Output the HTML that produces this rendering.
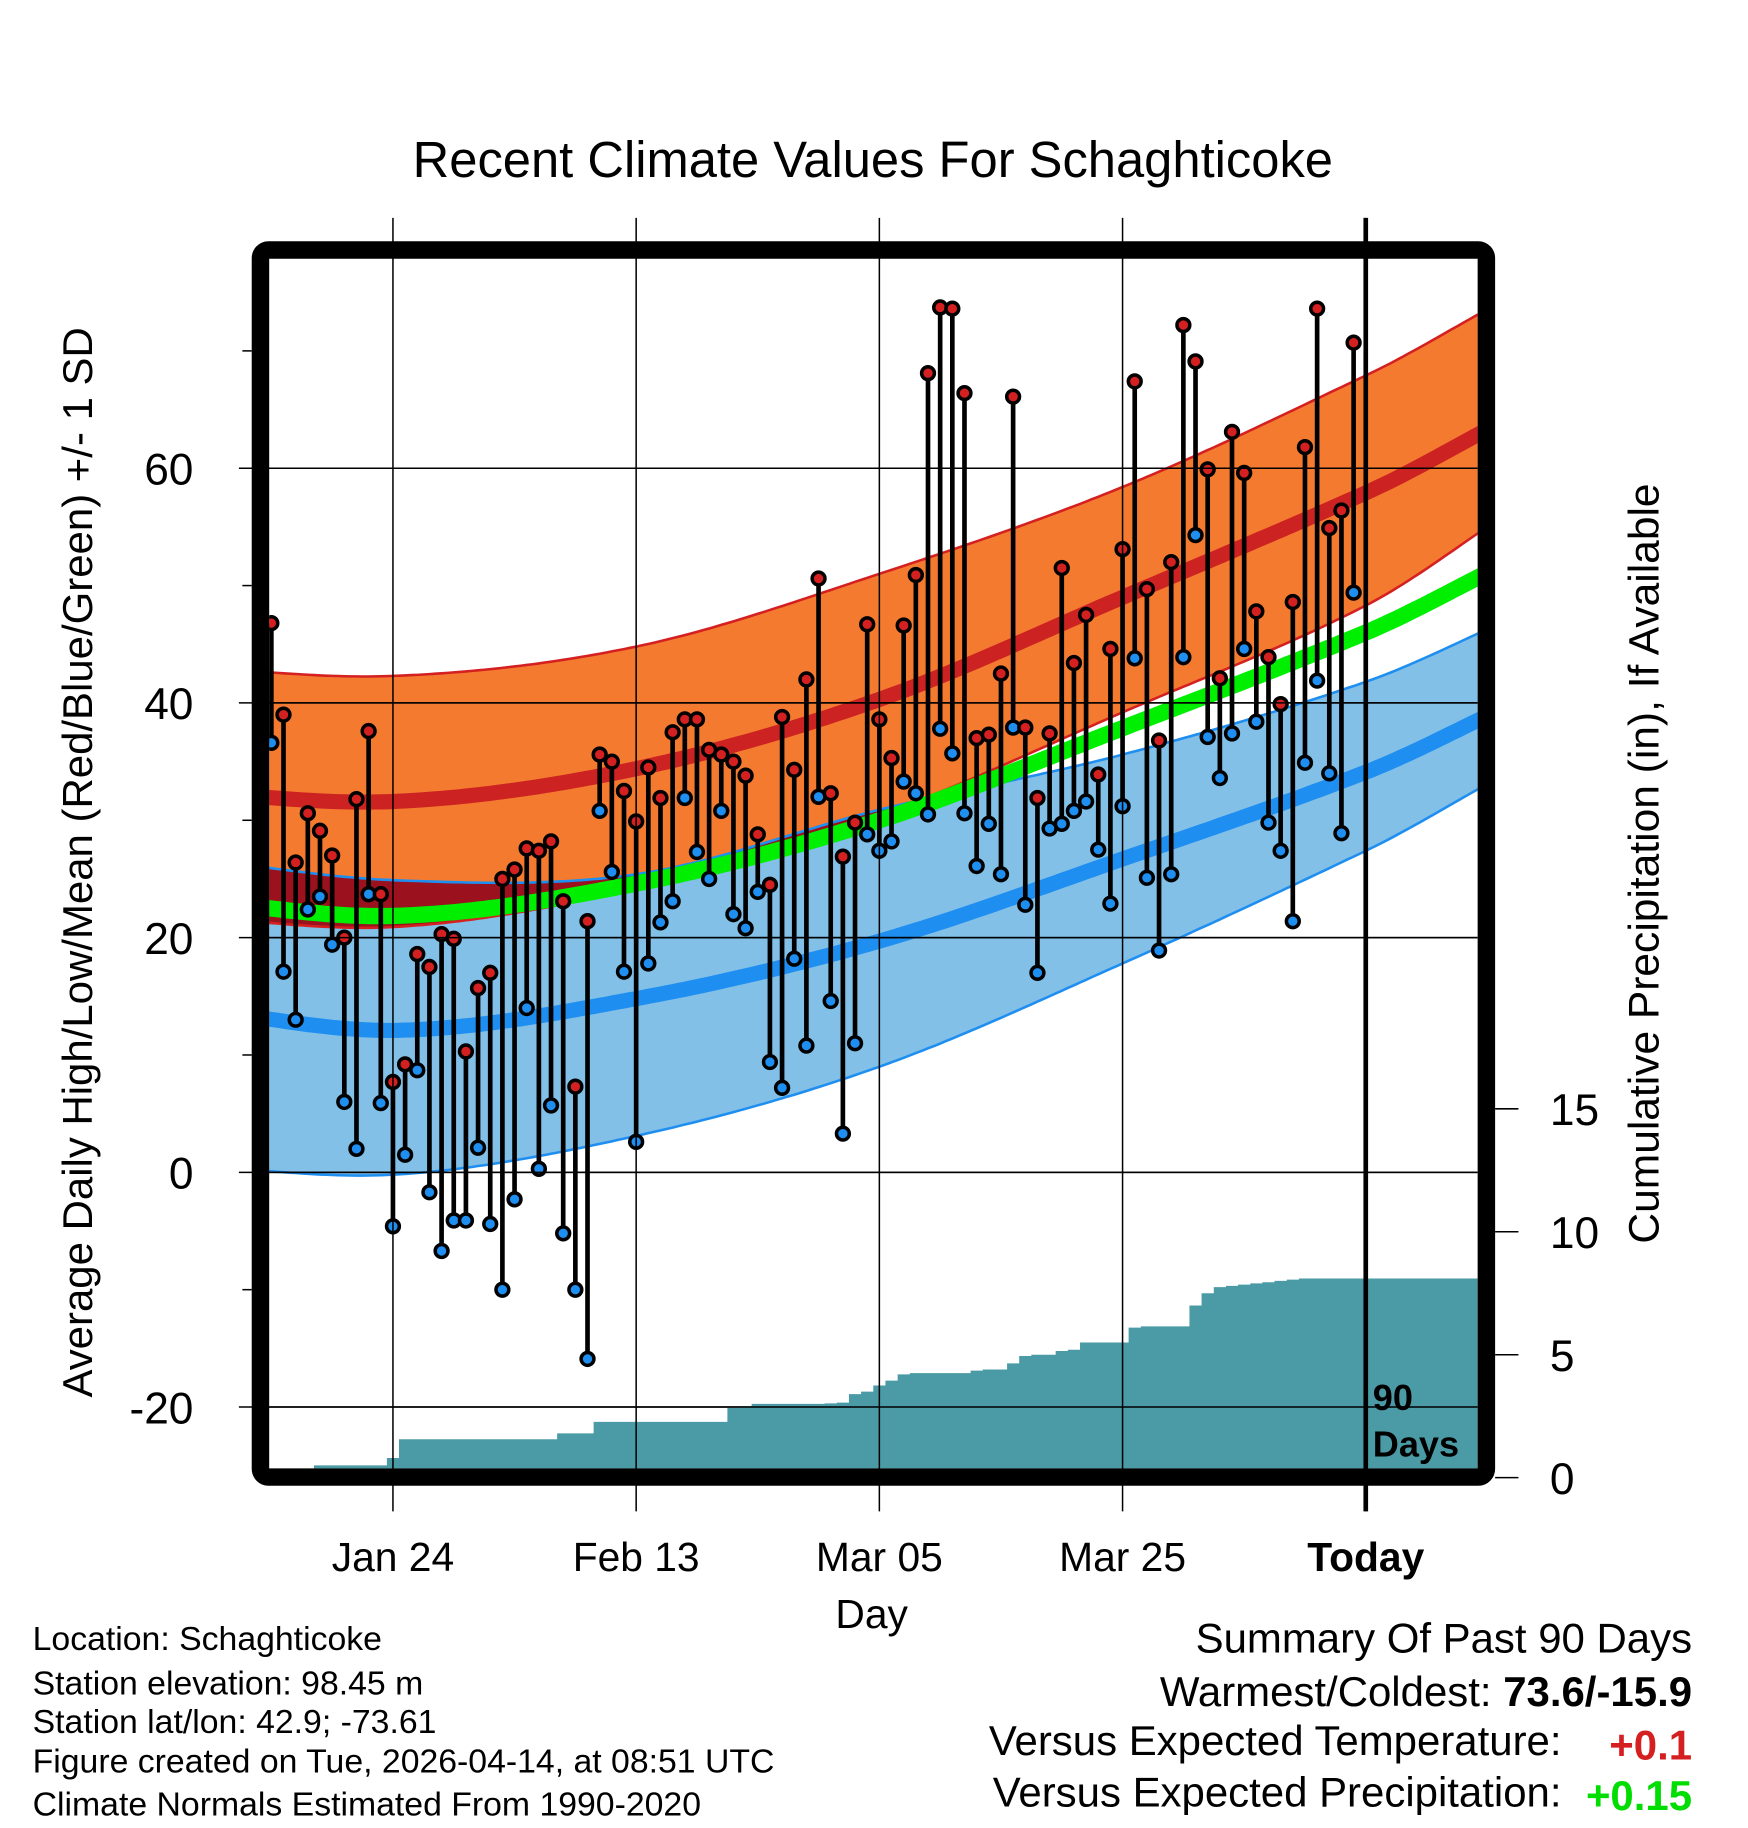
<!DOCTYPE html>
<html><head><meta charset="utf-8"><style>
html,body{margin:0;padding:0;background:#fff;}
svg{display:block;font-family:"Liberation Sans",Arial,sans-serif;}
</style></head><body>
<svg id="chart" width="1748" height="1828" viewBox="0 0 1500 1568.65" preserveAspectRatio="none" xmlns="http://www.w3.org/2000/svg">
<defs><clipPath id="plotclip"><rect x="231" y="222" width="1037" height="1038"/></clipPath></defs>
<text x="749" y="152" font-size="43.5" text-anchor="middle">Recent Climate Values For Schaghticoke</text>
<g id="plot" clip-path="url(#plotclip)"></g>
<g id="over"></g>
<rect x="223.5" y="214.5" width="1052" height="1053" rx="7" fill="none" stroke="#000" stroke-width="15"/>
<text transform="translate(79,740) rotate(-90)" font-size="36" text-anchor="middle">Average Daily High/Low/Mean (Red/Blue/Green) +/- 1 SD</text>
<text transform="translate(1423,741) rotate(-90)" font-size="36.5" text-anchor="middle">Cumulative Precipitation (in), If Available</text>
<text x="748" y="1397" font-size="35" text-anchor="middle">Day</text>
<text x="1178" y="1210" font-size="31" font-weight="bold">90</text>
<text x="1178" y="1250" font-size="31" font-weight="bold">Days</text>
<g font-size="29">
<text x="28" y="1416">Location: Schaghticoke</text>
<text x="28" y="1454">Station elevation: 98.45 m</text>
<text x="28" y="1487">Station lat/lon: 42.9; -73.61</text>
<text x="28" y="1521">Figure created on Tue, 2026-04-14, at 08:51 UTC</text>
<text x="28" y="1558">Climate Normals Estimated From 1990-2020</text>
</g>
<g font-size="36">
<text x="1452" y="1418" text-anchor="end">Summary Of Past 90 Days</text>
<text x="1452" y="1464" text-anchor="end">Warmest/Coldest: <tspan font-weight="bold">73.6/-15.9</tspan></text>
<text x="1340" y="1506" text-anchor="end">Versus Expected Temperature:</text>
<text x="1452" y="1510" text-anchor="end" font-weight="bold" fill="#d42020">+0.1</text>
<text x="1340" y="1550" text-anchor="end">Versus Expected Precipitation:</text>
<text x="1452" y="1553" text-anchor="end" font-weight="bold" fill="#00dd00">+0.15</text>
</g>
</svg>
<script>
const highs=[46.8,39.0,26.4,30.6,29.1,27.0,20.0,31.8,37.6,23.7,7.7,9.2,18.6,17.5,20.3,19.9,10.3,15.7,17.0,25.0,25.8,27.6,27.4,28.2,23.1,7.3,21.4,35.6,35.0,32.5,29.9,34.5,31.9,37.5,38.6,38.6,36.0,35.6,35.0,33.8,28.8,24.5,38.8,34.3,42.0,50.6,32.3,26.9,29.8,46.7,38.6,35.3,46.6,50.9,68.1,73.7,73.6,66.4,37.0,37.3,42.5,66.1,37.9,31.9,37.4,51.5,43.4,47.5,33.9,44.6,53.1,67.4,49.7,36.8,52.0,72.2,69.1,59.9,42.1,63.1,59.6,47.8,43.9,39.9,48.6,61.8,73.6,54.9,56.4,70.7];
const lows=[36.6,17.1,13.0,22.4,23.5,19.4,6.0,2.0,23.7,5.9,-4.6,1.5,8.7,-1.7,-6.7,-4.1,-4.1,2.1,-4.4,-10.0,-2.3,14.0,0.3,5.7,-5.2,-10.0,-15.9,30.8,25.6,17.1,2.6,17.8,21.3,23.1,31.9,27.3,25.0,30.8,22.0,20.8,23.9,9.4,7.2,18.2,10.8,32.0,14.6,3.3,11.0,28.8,27.4,28.2,33.3,32.3,30.5,37.8,35.7,30.6,26.1,29.7,25.4,37.9,22.8,17.0,29.3,29.7,30.8,31.6,27.5,22.9,31.2,43.8,25.1,18.9,25.4,43.9,54.3,37.1,33.6,37.4,44.6,38.4,29.8,27.4,21.4,34.9,41.9,34.0,28.9,49.4];
const precipCum=[0,0,0,0,0.5,0.5,0.5,0.5,0.5,0.5,0.8,1.56,1.56,1.56,1.56,1.56,1.56,1.56,1.56,1.56,1.56,1.56,1.56,1.56,1.8,1.8,1.8,2.27,2.27,2.27,2.27,2.27,2.27,2.27,2.27,2.27,2.27,2.27,2.84,2.9,3.0,3.0,3.0,3.0,3.0,3.0,3.02,3.05,3.4,3.5,3.75,3.95,4.2,4.25,4.25,4.25,4.25,4.25,4.35,4.4,4.4,4.65,4.95,5.0,5.0,5.15,5.2,5.5,5.5,5.5,5.5,6.1,6.15,6.15,6.15,6.15,7.0,7.5,7.75,7.8,7.85,7.9,7.95,8.0,8.05,8.1,8.1,8.1,8.1,8.1];
const normDays=[-100,-80,-60,-40,-20,0,20];
const hiHi=[43.2,42.3,44.8,51.0,58.4,67.9,78.0];
const hiMean=[32.6,31.6,34.4,40.3,49.0,57.9,67.6];
const hiLo=[22.0,20.9,24.2,30.4,39.2,48.3,60.6];
const loHi=[27.0,24.9,25.4,30.9,35.6,41.8,50.0];
const loMean=[14.3,12.1,14.8,19.7,26.7,34.1,42.8];
const loLo=[0.8,-0.2,3.1,9.0,17.8,27.4,37.6];
const tempTicks=[60,40,20,0,-20];
const precipTicks=[0,5,10,15];
const dateLabels=["Jan 24","Feb 13","Mar 05","Mar 25","Today"];
const dateDays=[-80,-60,-40,-20,0];

const xDay=d=>1172+d*10.435;
const yT=v=>1006-10.07*v;
const yP=p=>1268-21.1*p;
const NS="http://www.w3.org/2000/svg";
function mk(tag,attrs,parent){const e=document.createElementNS(NS,tag);for(const k in attrs)e.setAttribute(k,attrs[k]);parent.appendChild(e);return e;}
function interp(arr,d){
  let i=0;while(i<normDays.length-2&&d>normDays[i+1])i++;
  const p0=arr[Math.max(i-1,0)],p1=arr[i],p2=arr[i+1],p3=arr[Math.min(i+2,arr.length-1)];
  const t=(d-normDays[i])/(normDays[i+1]-normDays[i]);
  const t2=t*t,t3=t2*t;
  return 0.5*((2*p1)+(-p0+p2)*t+(2*p0-5*p1+4*p2-p3)*t2+(-p0+3*p1-3*p2+p3)*t3);
}
const samp=[];for(let d=-92;d<=11;d+=0.5)samp.push(d);
const pts=arr=>samp.map(d=>[xDay(d),yT(interp(arr,d))]);
const line=p=>p.map((q,i)=>(i?"L":"M")+q[0].toFixed(1)+","+q[1].toFixed(1)).join("");
const band=(a,b)=>line(pts(a))+pts(b).reverse().map(q=>"L"+q[0].toFixed(1)+","+q[1].toFixed(1)).join("")+"Z";

const plot=document.getElementById('plot');
const over=document.getElementById('over');

tempTicks.forEach(v=>{
  const g=mk('line',{x1:205,x2:1268,y1:yT(v),y2:yT(v),stroke:'#000','stroke-width':1.3},over);
  
  
  const t=mk('text',{x:166,y:yT(v)+14,'font-size':38,'text-anchor':'end'},over);t.textContent=v;
  
  
});
for(let v=-30;v<=70;v+=10){if(tempTicks.includes(v))continue;const y=yT(v);if(y<222||y>1260)continue;
  const m=mk('line',{x1:208,x2:216,y1:y,y2:y,stroke:'#000','stroke-width':1.3},over);
  
  }
dateDays.forEach((d,i)=>{
  const x=xDay(d);
  const g=mk('line',{x1:x,x2:x,y1:187,y2:1297,stroke:'#000','stroke-width':1.3},over);
  
  
  const t=mk('text',{x:x,y:1348,'font-size':35,'text-anchor':'middle'},over);t.textContent=dateLabels[i];
  if(i===4)t.setAttribute('font-weight','bold');
  
  
});
precipTicks.forEach(p=>{
  const g=mk('line',{x1:1283,x2:1303,y1:yP(p),y2:yP(p),stroke:'#000','stroke-width':1.3},over);
  
  
  const t=mk('text',{x:1330,y:yP(p)+14,'font-size':38},over);t.textContent=p;
  
  
});

const lb=mk('path',{d:band(loHi,loLo),fill:'#82c0e8'},plot);


const hb=mk('path',{d:band(hiHi,hiLo),fill:'#f47a30'},plot);


const ovTop=samp.map(d=>Math.min(interp(hiHi,d),interp(loHi,d)));
const ovBot=samp.map(d=>Math.max(interp(hiLo,d),interp(loLo,d)));
let od="";samp.forEach((d,i)=>{od+=(i?"L":"M")+xDay(d).toFixed(1)+","+yT(Math.max(ovTop[i],ovBot[i])).toFixed(1);});
for(let i=samp.length-1;i>=0;i--)od+="L"+xDay(samp[i]).toFixed(1)+","+yT(ovBot[i]).toFixed(1);
const ov=mk('path',{d:od+"Z",fill:'#9b111e'},plot);


[[loHi,'#1e8ef0'],[loLo,'#1e8ef0'],[hiHi,'#d42020'],[hiLo,'#d42020']].forEach(([a,c])=>{
  const e=mk('path',{d:line(pts(a)),fill:'none',stroke:c,'stroke-width':2.2},plot);
  
  
});
const hm=mk('path',{d:line(pts(hiMean)),fill:'none',stroke:'#cc2222','stroke-width':13},plot);


const lm=mk('path',{d:line(pts(loMean)),fill:'none',stroke:'#1e8ef0','stroke-width':13},plot);


const meanArr=hiMean.map((v,i)=>(v+loMean[i])/2);
const mm=mk('path',{d:line(pts(meanArr)),fill:'none',stroke:'#00ee00','stroke-width':14},plot);



tempTicks.forEach(v=>{
  const g=mk('line',{x1:231,x2:1268,y1:yT(v),y2:yT(v),stroke:'#000','stroke-width':1.3},plot);
  
  
});

let pd="M"+xDay(-92)+","+yP(0);
pd+="L"+xDay(-92)+","+yP(precipCum[0]);
precipCum.forEach((p,i)=>{const x0=xDay(i-90-0.5),x1=xDay(i-90+0.5);pd+="L"+x0.toFixed(1)+","+yP(p).toFixed(1)+"L"+x1.toFixed(1)+","+yP(p).toFixed(1);});
pd+="L"+xDay(11)+","+yP(precipCum[precipCum.length-1])+"L"+xDay(11)+","+yP(0)+"Z";
const pa=mk('path',{d:pd,fill:'#4a9ba6'},plot);



highs.forEach((h,i)=>{
  const x=xDay(i-90);
  const s=mk('line',{x1:x,x2:x,y1:yT(h),y2:yT(lows[i]),stroke:'#000','stroke-width':4},plot);
  
  
});
highs.forEach((h,i)=>{
  const x=xDay(i-90);
  const lo=mk('circle',{cx:x,cy:yT(lows[i]),r:5.5,fill:'#1e8ef0',stroke:'#000','stroke-width':3},plot);
  
  
  const hi=mk('circle',{cx:x,cy:yT(h),r:5.5,fill:'#d42020',stroke:'#000','stroke-width':3},plot);
  
  
});
const tl=mk('line',{x1:xDay(0),x2:xDay(0),y1:187,y2:1297,stroke:'#000','stroke-width':4},over);


</script>
</body></html>
